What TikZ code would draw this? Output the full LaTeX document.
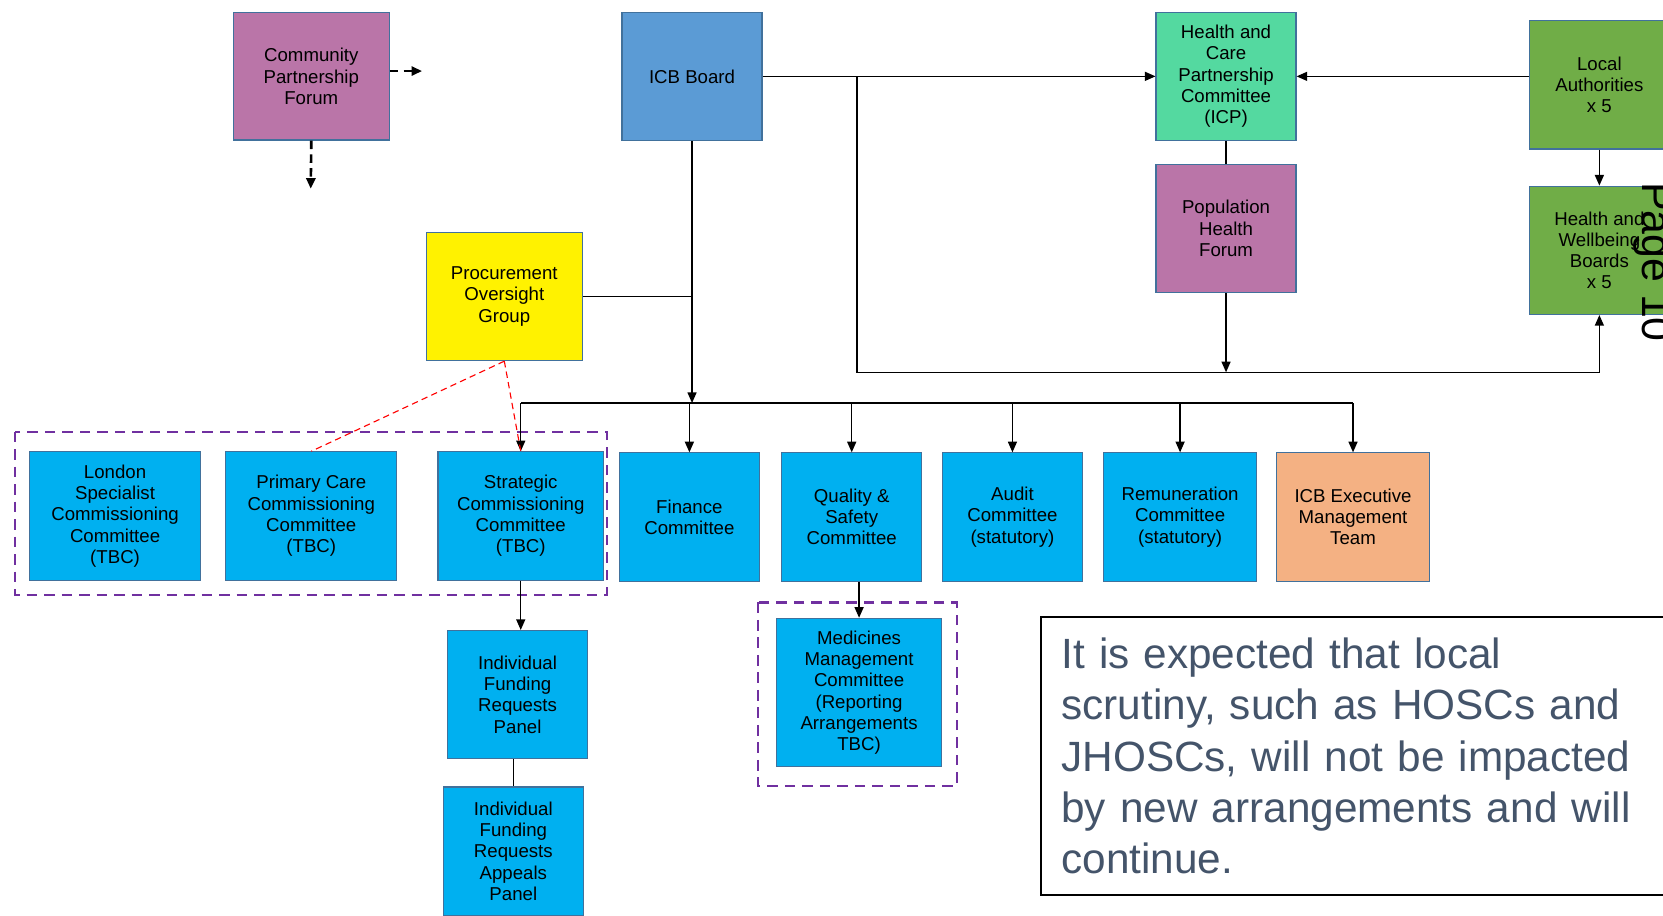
\documentclass[tikz,border=0pt]{standalone}
\usepackage{fontspec}
\setmainfont{Liberation Sans}
\usetikzlibrary{arrows.meta,positioning}
\definecolor{pinkbox}{RGB}{186,117,168}
\definecolor{icbblue}{RGB}{91,155,213}
\definecolor{icpgreen}{RGB}{84,217,160}
\definecolor{lagreen}{RGB}{112,173,71}
\definecolor{cmte}{RGB}{0,176,240}
\definecolor{execpeach}{RGB}{244,177,131}
\definecolor{edgeblue}{RGB}{65,113,156}
\definecolor{grppurple}{RGB}{112,48,160}
\definecolor{notegrey}{RGB}{68,84,106}

\begin{document}
\begin{tikzpicture}[x=0.2mm,y=-0.2mm,
    box/.style={draw=edgeblue, line width=0.6pt, fill=cmte, minimum width=26.4mm, minimum height=24.2mm,
      align=center, inner sep=1pt, font={\fontsize{10}{11.4}\selectfont}},
    grp/.style={draw=grppurple, line width=1.2pt, dash pattern=on 2mm off 1.3mm},
    >={Triangle[length=2mm,width=1.7mm]}, line width=0.7pt]
    \useasboundingbox (0,0) rectangle (1568,863);
    \clip (0,0) rectangle (1568,863);

    % top row
    \node[box, fill=pinkbox, minimum width=29.4mm, minimum height=24mm] (cpf) at (293.5,72) {Community\\ Partnership\\ Forum};
    \node[box, fill=icbblue] (icb) at (652.5,72) {ICB Board};
    \node[box, fill=icpgreen] (icp) at (1156,72) {Health and\\ Care\\ Partnership\\ Committee\\ (ICP)};
    \node[box, fill=pinkbox] (phf) at (1156,215.5) {Population\\ Health\\ Forum};
    \node[box, fill=lagreen] (la) at (1508,80) {Local\\ Authorities\\ x 5};
    \node[box, fill=lagreen] (hwb) at (1508,236) {Health and\\ Wellbeing\\ Boards\\ x 5};
    \node[box, fill=yellow, minimum width=29.4mm] (pog) at (475.5,279.5) {Procurement\\ Oversight\\ Group};

    % committees
    \node[box, minimum width=32.2mm] (lsc) at (108.5,486.5) {London\\ Specialist\\ Commissioning\\ Committee\\ (TBC)};
    \node[box, minimum width=32.2mm] (pcc) at (293.5,486.5) {Primary Care\\ Commissioning\\ Committee\\ (TBC)};
    \node[box, minimum width=31.2mm] (scc) at (491,486.5) {Strategic\\ Commissioning\\ Committee\\ (TBC)};
    \node[box] (fin) at (650,487.5) {Finance\\ Committee};
    \node[box, right=4mm of fin.east, anchor=west] (qsc) {Quality \&\\ Safety\\ Committee};
    \node[box, right=3.7mm of qsc.east, anchor=west] (aud) {Audit\\ Committee\\ (statutory)};
    \node[box, minimum width=28.8mm, right=3.8mm of aud.east, anchor=west] (rem) {Remuneration\\ Committee\\ (statutory)};
    \node[box, fill=execpeach, minimum width=28.8mm, right=3.6mm of rem.east, anchor=west] (exec) {ICB Executive\\ Management\\ Team};

    % lower boxes
    \node[box] (ifrp) at (488,655) {Individual\\ Funding\\ Requests\\ Panel};
    \node[box] (ifrap) at (484,802.5) {Individual\\ Funding\\ Requests\\ Appeals\\ Panel};
    \node[box, minimum width=31.2mm, minimum height=28mm] (mmc) at (810,653) {Medicines\\ Management\\ Committee\\ (Reporting\\ Arrangements\\ TBC)};

    \draw[grp] (14,407) rectangle (572,561);
    \draw[grp] (715,568) rectangle (902,741);

    % connectors
    \coordinate (tap) at (808,72);
    \coordinate (lowbus) at (808,351);
    \coordinate (bus) at (652,380);
    \draw[->] (icb.east) -- (icp.west);
    \draw[->] (la.west |- icp.east) -- (icp.east);
    \draw[->] (la.south) -- (hwb.north);
    \draw (icp.south) -- (phf.north);
    \draw[->] (tap) -- (lowbus) -| (hwb.south);
    \draw[->] (phf.south) -- (phf.south |- lowbus);

    \draw[->] (icb.south) -- (icb.south |- bus);
    \draw (pog.east) -- (pog.east -| icb.south);
    \draw (scc.north |- bus) -- (exec.north |- bus);
    \foreach \n in {scc,fin,qsc,aud,rem,exec}
      \draw[->] (\n.north |- bus) -- (\n.north);
    \draw[red, line width=0.6pt, dash pattern=on 1.2mm off 0.8mm] (pog.south) -- (pcc.north);
    \draw[red, line width=0.6pt, dash pattern=on 1.2mm off 0.8mm] (pog.south) -- (scc.north);

    \draw[->] (scc.south) -- (scc.south |- ifrp.north);
    \draw (ifrap.north |- ifrp.south) -- (ifrap.north);
    \draw[->] (mmc.north |- qsc.south) -- (mmc.north);

    \coordinate (cpfr) at (398,67);
    \coordinate (cpfd) at (293,178);
    \draw[->, line width=1.4pt, dash pattern=on 1.6mm off 1mm] (cpf.east |- cpfr) -- (cpfr);
    \draw[->, line width=1.4pt, dash pattern=on 1.6mm off 1mm] (cpf.south) -- (cpfd);

    % note
    \node[draw=black, line width=0.9pt, anchor=north west, minimum height=52.4mm, text width=111mm,
      inner xsep=3.8mm, align=left, text=notegrey, font={\fontsize{22.7}{27.5}\selectfont}] (note) at (981,581)
      {It is expected that local\\ scrutiny, such as HOSCs and\\ JHOSCs, will not be impacted\\ by new arrangements and will\\ continue.};

    \node[rotate=-90, anchor=base, font={\fontsize{23}{27}\selectfont}] (pg) at (1549,247) {Page 10};
\end{tikzpicture}
\end{document}
